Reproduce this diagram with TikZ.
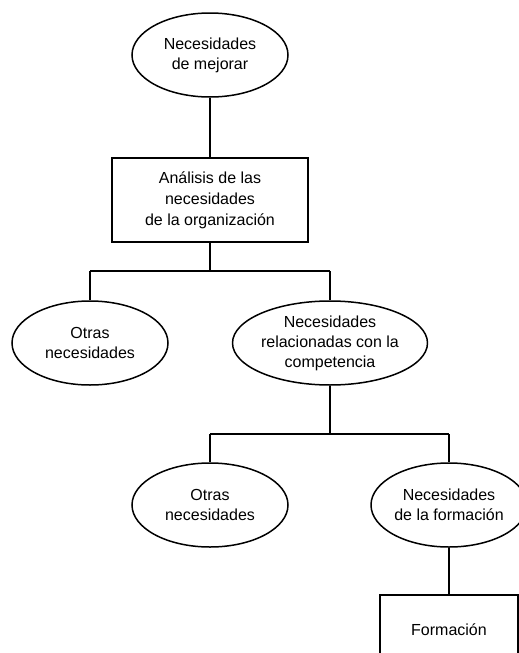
\documentclass[tikz,border=0pt]{standalone}
\usepackage{fontspec}
\setmainfont{Liberation Sans}
\usetikzlibrary{shapes.geometric}
\tikzset{
  oval/.style={ellipse, draw, line width=1.5pt, minimum width=156pt, minimum height=84pt, inner sep=0pt, align=center, font=\fontsize{16}{20}\selectfont},
  boxnode/.style={rectangle, draw, line width=1.5pt, align=center, inner sep=0pt, font=\fontsize{16}{21}\selectfont},
  stem/.style={line width=2.8pt},
  bar/.style={line width=1.4pt}
}
\begin{document}
\begin{tikzpicture}[x=1pt,y=-1pt]
\clip (0,0) rectangle (519,653);
\node[oval] (top) at (210,55) {Necesidades\\de mejorar};
\node[boxnode, minimum width=196pt, minimum height=84pt] (ana) at (210,200) {Análisis de las\\necesidades\\de la organización};
\node[oval] (o1) at (90,343) {Otras\\necesidades};
\node[oval] (c1) at (330,343) {Necesidades\\relacionadas con la\\competencia};
\node[oval] (o2) at (210,505) {Otras\\necesidades};
\node[oval] (f1) at (449,505) {Necesidades\\de la formación};
\node[boxnode, minimum width=138pt, minimum height=120pt] (form) at (449,655) {};
\node[font=\fontsize{16}{20}\selectfont] (formtxt) at (449,630) {Formación};
\coordinate (j1) at (210,271);
\coordinate (j2) at (330,434);
\coordinate (a1) at (90,271);
\coordinate (b1) at (330,271);
\coordinate (a2) at (210,434);
\coordinate (b2) at (449,434);
\draw[stem] (top.south) -- (ana.north);
\draw[stem] (ana.south) -- (j1);
\draw[bar] (a1) -- (b1);
\draw[stem] (a1) -- (o1.north);
\draw[bar] (b1) -- (c1.north);
\draw[stem] (c1.south) -- (j2);
\draw[bar] (a2) -- (b2);
\draw[stem] (a2) -- (o2.north);
\draw[bar] (b2) -- (f1.north);
\draw[stem] (f1.south) -- (form.north);
\end{tikzpicture}
\end{document}
